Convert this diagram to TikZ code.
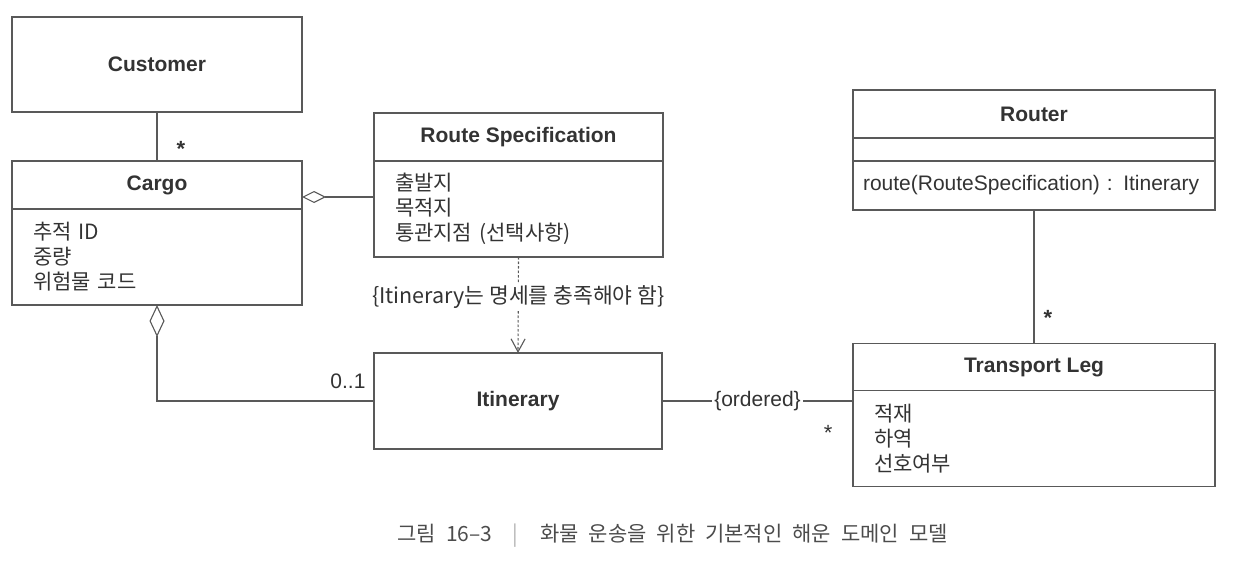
\documentclass[tikz,border=0pt]{standalone}
\usepackage{fontspec}
\setmainfont{Liberation Sans}
\newfontfamily\kr{Noto Sans CJK KR}
\usetikzlibrary{positioning,arrows.meta}
\definecolor{linegray}{gray}{0.35}
\definecolor{inkgray}{gray}{0.2}

\begin{document}
\begin{tikzpicture}
      [x=1pt,y=-1pt,line width=1.1pt,
       title node/.style={rectangle,draw=linegray,text=inkgray,outer sep=0pt,inner sep=0pt,
         minimum height=48pt,font=\fontsize{21}{25}\selectfont\bfseries},
       attr node/.style={rectangle,draw=linegray,text=inkgray,outer sep=0pt,inner xsep=21pt,inner ysep=0pt,
         align=left,minimum height=96pt,font=\kr\fontsize{21}{25}\selectfont},
       mult/.style={text=inkgray,inner sep=1pt,font=\fontsize{22}{22}\selectfont\bfseries},
       lbl/.style={text=inkgray,inner sep=2pt,font=\fontsize{21}{25}\selectfont},
       assoc/.style={draw=linegray},
       aggr/.style={draw=linegray,{Diamond[open,fill=white,length=24pt,width=12pt]}-},
       dep/.style={draw=linegray,dash pattern=on 2.5pt off 2pt,-{Straight Barb[length=13pt,width=14pt]}}]
        \useasboundingbox (0,0) rectangle (1233,564);

        \node[title node,minimum width=290pt,minimum height=95pt] (cust) at (157,64.5) {Customer};

        \node[title node,minimum width=290pt] (cargo) at (157,185) {Cargo};
        \node[attr node,text width=248pt,below=0pt of cargo] (cargoattr) {추적 ID\\중량\\위험물 코드};

        \node[title node,minimum width=289pt] (spec) at (518.5,137) {Route Specification};
        \node[attr node,text width=247pt,below=0pt of spec] (specattr) {출발지\\목적지\\통관지점 (선택사항)};

        \node[title node,minimum width=288pt,minimum height=96pt] (itin) at (518,401) {Itinerary};

        \node[title node,minimum width=362pt] (router) at (1034,114) {Router};
        \node[title node,minimum width=362pt,minimum height=23pt,below=0pt of router] (routerattr) {};
        \node[attr node,text width=342pt,inner xsep=10pt,minimum height=49pt,below=0pt of routerattr,
          font=\fontsize{21}{25}\selectfont] (routerops) {route(RouteSpecification) : Itinerary};

        \node[title node,minimum width=362pt,minimum height=47pt] (leg) at (1034,367) {Transport Leg};
        \node[attr node,text width=320pt,below=0pt of leg] (legattr) {적재\\하역\\선호여부};

        \draw[assoc] (cust) -- node[mult,pos=0.68,xshift=24pt,yshift=-4pt] {*} (cargo);
        \draw[aggr] ([yshift=-12pt]cargo.east) -- ([yshift=-12pt]cargo.east -| specattr.west);
        \draw[aggr,{Diamond[open,fill=white,length=32pt,width=15pt]}-] (cargoattr.south) |- node[lbl,pos=0.94,above=10pt] {0..1} (itin.west);
        \draw[dep] (specattr.south) -- node[pos=0.42,fill=white,text=inkgray,inner sep=2pt,
          font=\kr\fontsize{21.5}{25}\selectfont] {\{Itinerary는 명세를 충족해야 함\}} (itin.north);
        \draw[assoc] (itin.east) -- node[lbl,fill=white] {\{ordered\}} (itin.east -| legattr.west)
          node[mult,font=\fontsize{22}{22}\selectfont,below left=23pt and 19pt] {*};
        \draw[assoc] (routerops.south) -- node[mult,pos=0.78,xshift=14pt,yshift=-4pt] {*} (leg.north);

        % caption
        \node[anchor=west,text=black!70,font=\kr\fontsize{21}{22}\selectfont,inner sep=0pt] (caption) at (397,536)
          {\spaceskip=10pt\relax 그림 16–3\hspace{20pt}{\color{black!30}|}\hspace{22pt}화물 운송을 위한 기본적인 해운 도메인 모델};
\end{tikzpicture}
\end{document}
